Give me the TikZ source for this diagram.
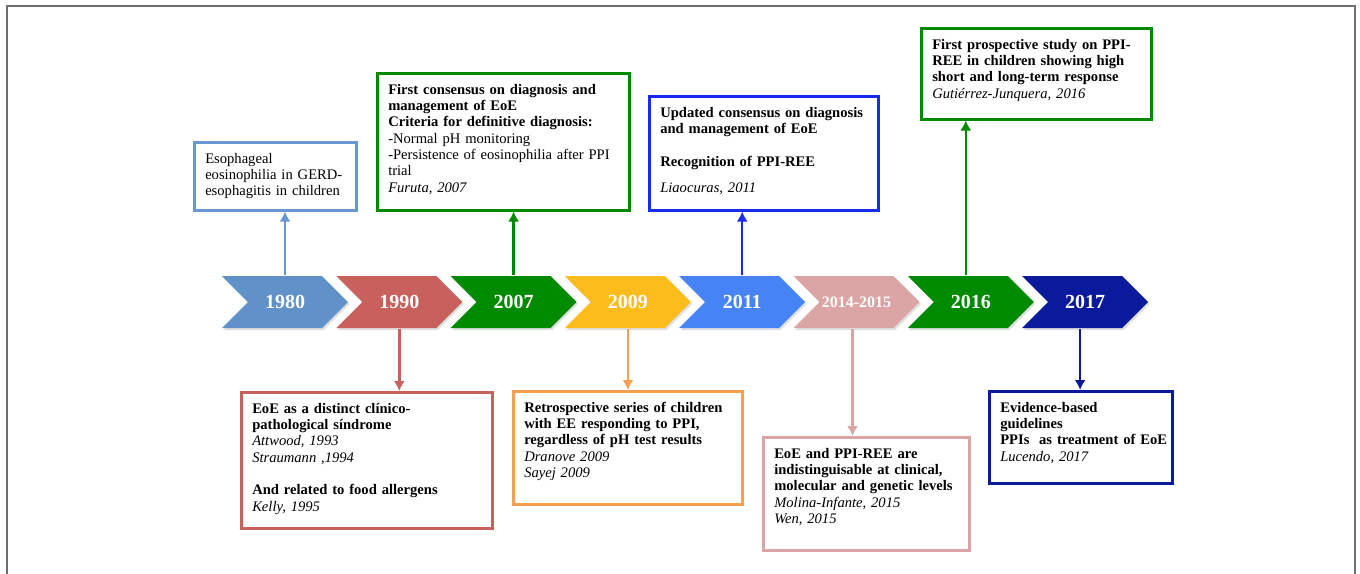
\documentclass[tikz,border=0pt]{standalone}
\usepackage{fontspec}
\setmainfont{Liberation Serif}
\usepackage{tikz}
\usetikzlibrary{shapes}
\usetikzlibrary{arrows.meta}
\usetikzlibrary{shadows}

\definecolor{steel}{RGB}{96,145,200}
\definecolor{lsteel}{RGB}{104,152,210}
\definecolor{brick}{RGB}{200,96,92}
\definecolor{leaf}{RGB}{0,138,0}
\definecolor{gold}{RGB}{251,188,28}
\definecolor{apricot}{RGB}{245,160,80}
\definecolor{sky}{RGB}{70,132,245}
\definecolor{royal}{RGB}{24,44,240}
\definecolor{rose}{RGB}{219,165,165}
\definecolor{navy}{RGB}{10,26,155}
\definecolor{frame}{RGB}{110,110,110}

\begin{document}
\begin{tikzpicture}[x=1pt,y=-1pt,->,>={Latex[length=10pt,width=11pt]},line width=2.5pt,node distance=114.3pt,
                    year/.style={signal,signal from=west,signal to=east,signal pointer angle=90,
                      minimum width=126pt,minimum height=52pt,inner sep=0pt,fill=#1,text=white,
                      font=\bfseries\fontsize{20}{20}\selectfont,
                      drop shadow={shadow xshift=1.5pt,shadow yshift=-2pt,opacity=.25}},
                    note/.style={draw=#1,fill=white,anchor=north west,inner xsep=11pt,inner ysep=8pt,
                      text height=13pt,align=left,font=\fontsize{14.6}{16.3}\selectfont}]

		\useasboundingbox (0,0) rectangle (1360,573);
		\draw[-,frame,line width=1.5pt] (7,590) -- (7,6) -- (1355,6) -- (1355,590);

		% the time line
		\node[year=steel] (1980) at (285,302) {1980};
		\node[year=brick] (1990) [right of=1980] {1990};
		\node[year=leaf] (2007) [right of=1990] {2007};
		\node[year=gold] (2009) [right of=2007] {2009};
		\node[year=sky] (2011) [right of=2009] {2011};
		\node[year=rose,font=\bfseries\fontsize{16}{16}\selectfont] (2014) [right of=2011] {2014-2015};
		\node[year=leaf] (2016) [right of=2014] {2016};
		\node[year=navy] (2017) [right of=2016] {2017};

		% notes above
		\node[note=lsteel,text width=140pt,text depth=39pt] (n1980) at (193,141)
			{Esophageal\\eosinophilia in GERD-\\esophagitis in children};
		\node[note=leaf,text width=230pt,text depth=108pt] (n2007) at (376,72)
			{\textbf{First consensus on diagnosis and}\\\textbf{management of EoE}\\
			 \textbf{Criteria for definitive diagnosis:}\\-Normal pH monitoring\\
			 -Persistence of eosinophilia after PPI\\trial\\\textit{Furuta, 2007}};
		\node[note=royal,text width=207pt,text depth=85pt] (n2011) at (648,95)
			{\textbf{Updated consensus on diagnosis}\\\textbf{and management of EoE}\\[16.3pt]
			 \textbf{Recognition of PPI-REE}\\[10pt]\textit{Liaocuras, 2011}};
		\node[note=leaf,text width=208pt,text depth=62pt] (n2016) at (920,27)
			{\textbf{First prospective study on PPI-}\\\textbf{REE in children showing high}\\
			 \textbf{short and long-term response}\\\textit{Gutiérrez-Junquera, 2016}};

		% notes below
		\node[note=brick,text width=229pt,text depth=107pt] (n1990) at (240,391)
			{\textbf{EoE as a distinct clínico-}\\\textbf{pathological síndrome}\\
			 \textit{Attwood, 1993}\\\textit{Straumann ,1994}\\[16.3pt]
			 \textbf{And related to food allergens}\\\textit{Kelly, 1995}};
		\node[note=apricot,text width=207pt,text depth=84pt] (n2009) at (512,390)
			{\textbf{Retrospective series of children}\\\textbf{with EE responding to PPI,}\\
			 \textbf{regardless of pH test results}\\\textit{Dranove 2009}\\\textit{Sayej 2009}};
		\node[note=rose,text width=184pt,text depth=84pt] (n2014) at (762,436)
			{\textbf{EoE and PPI-REE are}\\\textbf{indistinguisable at clinical,}\\
			 \mbox{\textbf{molecular and genetic levels}}\\\textit{Molina-Infante, 2015}\\\textit{Wen, 2015}};
		\node[note=navy,text width=161pt,text depth=63pt] (n2017) at (988,390)
			{\textbf{Evidence-based}\\\textbf{guidelines}\\
			 \mbox{\textbf{PPIs\ \ as treatment of EoE}}\\\textit{Lucendo, 2017}};

		\path
		(1980.north) edge [lsteel] (1980.north |- n1980.south)
		(2007.north) edge [leaf] (2007.north |- n2007.south)
		(2011.north) edge [royal] (2011.north |- n2011.south)
		([xshift=-5pt]2016.north) edge [leaf] ([xshift=-5pt]2016.north |- n2016.south)
		(1990.south) edge [brick] (1990.south |- n1990.north)
		(2009.south) edge [apricot] (2009.south |- n2009.north)
		([xshift=-4pt]2014.south) edge [rose] ([xshift=-4pt]2014.south |- n2014.north)
		([xshift=-5pt]2017.south) edge [navy] ([xshift=-5pt]2017.south |- n2017.north);
	\end{tikzpicture}
\end{document}
